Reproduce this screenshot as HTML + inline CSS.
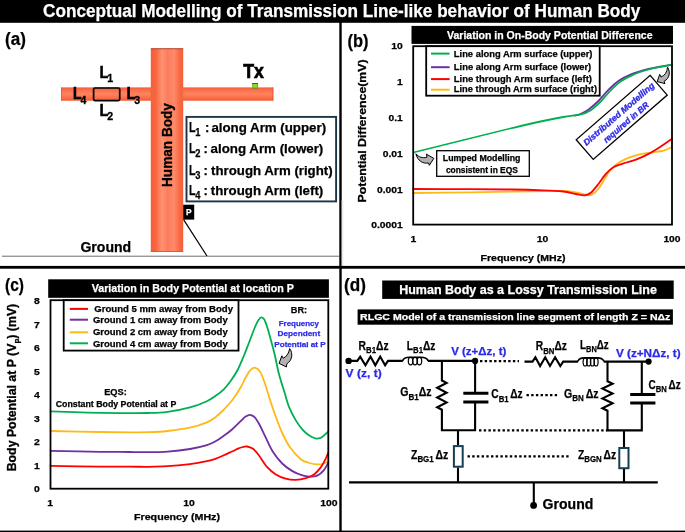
<!DOCTYPE html>
<html><head><meta charset="utf-8"><title>Conceptual Modelling of Transmission Line-like behavior of Human Body</title>
<style>
html,body{margin:0;padding:0;background:#fff;}
svg{display:block;}
text{font-family:"Liberation Sans",sans-serif;font-weight:bold;}
</style></head><body>
<svg width="685" height="532" viewBox="0 0 685 532">
<defs>
<linearGradient id="gb" x1="0" x2="1" y1="0" y2="0">
<stop offset="0" stop-color="#f45e39"/><stop offset="0.15" stop-color="#f7653e"/><stop offset="0.35" stop-color="#ff9273"/><stop offset="0.52" stop-color="#fb7d5b"/><stop offset="0.72" stop-color="#ff8a6a"/><stop offset="0.88" stop-color="#f96a45"/><stop offset="1" stop-color="#f45e39"/>
</linearGradient>
<linearGradient id="ga" x1="0" x2="0" y1="0" y2="1">
<stop offset="0" stop-color="#f35c36"/><stop offset="0.15" stop-color="#fa6a45"/><stop offset="0.5" stop-color="#ff8460"/><stop offset="0.85" stop-color="#f96843"/><stop offset="1" stop-color="#f0552f"/>
</linearGradient>
</defs>
<rect x="0" y="0" width="685" height="532" fill="#fff"/>

<rect x="0" y="0" width="685" height="22.8" fill="#000"/>
<text x="43" y="16.9" font-size="17.8" fill="#fff" textLength="597.4" lengthAdjust="spacingAndGlyphs" stroke="#fff" stroke-width="0.25">Conceptual Modelling of Transmission Line-like behavior of Human Body</text>
<rect x="339.3" y="22" width="2.4" height="510" fill="#000"/>
<rect x="341.7" y="200" width="1.6" height="66" fill="#ebebeb"/>
<rect x="0" y="265.9" width="685" height="2.8" fill="#000"/>
<rect x="0" y="530.6" width="685" height="1.4" fill="#000"/>
<g id="panel-a">
<text x="5" y="45.2" font-size="17.6" fill="#000" textLength="20.9" lengthAdjust="spacingAndGlyphs" stroke="#000" stroke-width="0.25">(a)</text>
<rect x="61.2" y="87.4" width="90.5" height="13.3" fill="url(#ga)"/>
<rect x="183" y="87.4" width="90.3" height="13.3" fill="url(#ga)"/>
<rect x="150.8" y="48.6" width="32.4" height="203.2" fill="url(#gb)"/>
<rect x="150.8" y="48.3" width="32.4" height="0.9" fill="#a8381a"/>
<path d="M151,87.6 Q154.3,94.2 151,100.8" stroke="#dd7a3c" stroke-width="0.8" fill="none"/>
<path d="M183.2,87.6 Q180.2,94.2 183.2,100.8" stroke="#dd7a3c" stroke-width="0.8" fill="none"/>
<rect x="61.2" y="87.4" width="0.8" height="13.3" fill="#e0552c"/>
<rect x="272.5" y="87.4" width="0.8" height="13.3" fill="#e0552c"/>
<rect x="150.8" y="251.2" width="32.4" height="0.8" fill="#b8583a"/>
<rect x="93.6" y="88" width="26.1" height="12.6" rx="1.3" fill="none" stroke="#000" stroke-width="1.7"/>
<text x="99.8" y="77.6" font-size="16" fill="#000" textLength="8.5" lengthAdjust="spacingAndGlyphs" stroke="#000" stroke-width="0.7">L</text>
<text x="107.19999999999999" y="82.19999999999999" font-size="11.6" fill="#000" textLength="5.9" lengthAdjust="spacingAndGlyphs" stroke="#000" stroke-width="0.3">1</text>
<text x="99.8" y="115.8" font-size="16" fill="#000" textLength="8.5" lengthAdjust="spacingAndGlyphs" stroke="#000" stroke-width="0.7">L</text>
<text x="107.19999999999999" y="120.39999999999999" font-size="11.6" fill="#000" textLength="5.9" lengthAdjust="spacingAndGlyphs" stroke="#000" stroke-width="0.3">2</text>
<text x="73.1" y="98.9" font-size="16" fill="#000" textLength="8.5" lengthAdjust="spacingAndGlyphs" stroke="#000" stroke-width="0.7">L</text>
<text x="80.49999999999999" y="103.5" font-size="11.6" fill="#000" textLength="5.9" lengthAdjust="spacingAndGlyphs" stroke="#000" stroke-width="0.3">4</text>
<text x="126.8" y="98.9" font-size="16" fill="#000" textLength="8.5" lengthAdjust="spacingAndGlyphs" stroke="#000" stroke-width="0.7">L</text>
<text x="134.2" y="103.5" font-size="11.6" fill="#000" textLength="5.9" lengthAdjust="spacingAndGlyphs" stroke="#000" stroke-width="0.3">3</text>
<text x="243.2" y="77.5" font-size="19.4" fill="#000" textLength="20.7" lengthAdjust="spacingAndGlyphs" stroke="#000" stroke-width="0.7">Tx</text>
<rect x="252.2" y="83.1" width="5.8" height="5.5" fill="#6fae1e"/>
<rect x="253.2" y="84" width="3.8" height="3.6" fill="#86e01a"/>
<rect x="252.2" y="83" width="5.8" height="0.8" fill="#4a3a2a"/>
<rect x="252.6" y="87.9" width="5" height="0.8" fill="#9a6a3a"/>
<text x="80.4" y="252.2" font-size="14" fill="#000" textLength="50.8" lengthAdjust="spacingAndGlyphs" stroke="#000" stroke-width="0.25">Ground</text>
<rect x="2" y="255.7" width="337" height="1" fill="#6e6e6e"/>
<rect x="186.5" y="116.9" width="149.6" height="84.5" fill="#fff" stroke="#1c3648" stroke-width="1.9"/>
<text x="189.0" y="131.7" font-size="14.6" fill="#000" textLength="6.6" lengthAdjust="spacingAndGlyphs" stroke="#000" stroke-width="0.25">L</text>
<text x="195.2" y="135.7" font-size="10.8" fill="#000" textLength="5.2" lengthAdjust="spacingAndGlyphs" stroke="#000" stroke-width="0.25">1</text>
<text x="205.0" y="131.7" font-size="13" fill="#000" stroke="#000" stroke-width="0.25">:</text>
<text x="211.4" y="131.7" font-size="13" fill="#000" textLength="114.7" lengthAdjust="spacingAndGlyphs" stroke="#000" stroke-width="0.25">along Arm (upper)</text>
<text x="189.0" y="153.4" font-size="14.6" fill="#000" textLength="6.6" lengthAdjust="spacingAndGlyphs" stroke="#000" stroke-width="0.25">L</text>
<text x="195.2" y="157.4" font-size="10.8" fill="#000" textLength="5.2" lengthAdjust="spacingAndGlyphs" stroke="#000" stroke-width="0.25">2</text>
<text x="203.6" y="153.4" font-size="13" fill="#000" stroke="#000" stroke-width="0.25">:</text>
<text x="210.6" y="153.4" font-size="13" fill="#000" textLength="112.7" lengthAdjust="spacingAndGlyphs" stroke="#000" stroke-width="0.25">along Arm (lower)</text>
<text x="189.0" y="174.5" font-size="14.6" fill="#000" textLength="6.6" lengthAdjust="spacingAndGlyphs" stroke="#000" stroke-width="0.25">L</text>
<text x="195.2" y="178.5" font-size="10.8" fill="#000" textLength="5.2" lengthAdjust="spacingAndGlyphs" stroke="#000" stroke-width="0.25">3</text>
<text x="203.6" y="174.5" font-size="13" fill="#000" stroke="#000" stroke-width="0.25">:</text>
<text x="211.1" y="174.5" font-size="13" fill="#000" textLength="121.5" lengthAdjust="spacingAndGlyphs" stroke="#000" stroke-width="0.25">through Arm (right)</text>
<text x="189.0" y="194.8" font-size="14.6" fill="#000" textLength="6.6" lengthAdjust="spacingAndGlyphs" stroke="#000" stroke-width="0.25">L</text>
<text x="195.2" y="198.8" font-size="10.8" fill="#000" textLength="5.2" lengthAdjust="spacingAndGlyphs" stroke="#000" stroke-width="0.25">4</text>
<text x="203.6" y="194.8" font-size="13" fill="#000" stroke="#000" stroke-width="0.25">:</text>
<text x="210.8" y="194.8" font-size="13" fill="#000" textLength="112.5" lengthAdjust="spacingAndGlyphs" stroke="#000" stroke-width="0.25">through Arm (left)</text>
<rect x="183.2" y="204.7" width="11" height="14.9" fill="#000"/>
<text x="188.7" y="215.2" font-size="8.4" fill="#fff" text-anchor="middle" stroke="#fff" stroke-width="0.25">P</text>
<path d="M183.6,219.6 L207,256" stroke="#000" stroke-width="1.2" fill="none"/>
<text transform="translate(171.8,187) rotate(-90)" font-size="14.3" textLength="83.9" lengthAdjust="spacingAndGlyphs" stroke="#000" stroke-width="0.3">Human Body</text>
</g>
<g id="panel-b">
<text x="347.5" y="46.5" font-size="18" fill="#000" textLength="21" lengthAdjust="spacingAndGlyphs" stroke="#000" stroke-width="0.25">(b)</text>
<rect x="411.5" y="25.9" width="261.5" height="18" fill="#000"/>
<text x="549.8" y="38.9" font-size="10.5" fill="#fff" text-anchor="middle" textLength="205.5" lengthAdjust="spacingAndGlyphs" stroke="#fff" stroke-width="0.25">Variation in On-Body Potential Difference</text>
<path d="M413.2,193.0 C422.7,192.9 453.4,192.6 470.0,192.3 C486.6,192.1 500.8,191.7 513.0,191.5 C525.2,191.3 534.7,191.1 543.1,191.0 C551.5,190.9 557.3,190.7 563.2,191.0 C569.1,191.3 574.1,192.1 578.3,192.8 C582.5,193.5 585.6,195.3 588.3,195.3 C591.0,195.3 592.5,194.5 594.6,192.8 C596.7,191.1 598.6,188.5 600.9,185.2 C603.2,181.8 605.9,176.1 608.4,172.7 C610.9,169.3 613.0,166.9 615.9,164.6 C618.8,162.3 622.2,160.6 626.0,158.9 C629.8,157.2 634.3,155.7 638.5,154.6 C642.7,153.5 646.9,153.3 651.1,152.6 C655.3,151.9 660.1,151.5 663.6,150.6 C667.1,149.7 670.6,147.7 672.0,147.1" fill="none" stroke="#ffb914" stroke-width="1.8" stroke-linecap="round"/>
<path d="M413.2,189.0 C422.7,189.0 453.4,189.1 470.0,189.2 C486.6,189.3 500.8,189.3 513.0,189.5 C525.2,189.7 534.7,190.0 543.1,190.3 C551.5,190.6 557.8,190.9 563.2,191.5 C568.7,192.1 572.2,193.4 575.8,194.0 C579.4,194.6 582.1,195.5 584.6,195.3 C587.1,195.1 588.5,194.7 590.8,192.8 C593.1,190.9 595.9,187.2 598.4,184.0 C600.9,180.8 603.4,176.7 605.9,173.9 C608.4,171.1 610.5,168.9 613.4,167.2 C616.3,165.4 619.7,164.7 623.5,163.4 C627.3,162.1 631.8,161.2 636.0,159.6 C640.2,158.0 644.4,156.1 648.6,153.9 C652.8,151.7 657.2,148.8 661.1,146.3 C665.0,143.8 670.2,140.1 672.0,138.8" fill="none" stroke="#ff0000" stroke-width="1.8" stroke-linecap="round"/>
<path d="M575.0,115.6 C575.8,115.4 577.8,115.2 580.0,114.2 C582.2,113.2 585.2,111.9 588.3,109.7 C591.4,107.5 595.0,104.3 598.4,101.0 C601.8,97.7 605.1,93.2 608.4,89.9 C611.7,86.6 614.6,83.6 618.4,81.0 C622.2,78.4 626.0,76.4 631.0,74.4 C636.0,72.4 643.8,70.2 648.6,68.9 C653.4,67.6 656.1,67.3 660.0,66.6 C663.9,65.9 670.0,64.9 672.0,64.6" fill="none" stroke="#7030a0" stroke-width="1.8" stroke-linecap="round"/>
<path d="M413.2,152.5 L513,127.8" fill="none" stroke="#00b050" stroke-width="1.6"/>
<path d="M513.0,127.8 C517.2,126.8 529.7,123.8 538.1,122.0 C546.5,120.2 556.1,118.3 563.2,117.0 C570.3,115.7 576.2,115.5 580.8,114.4 C585.4,113.3 587.4,112.4 590.8,110.2 C594.1,108.0 597.5,104.8 600.9,101.4 C604.2,98.1 607.5,93.4 610.9,90.1 C614.2,86.8 617.2,83.9 621.0,81.3 C624.8,78.7 628.9,76.6 633.5,74.6 C638.1,72.6 643.6,70.9 648.6,69.5 C653.6,68.1 659.7,67.1 663.6,66.3 C667.5,65.5 670.6,64.9 672.0,64.6" fill="none" stroke="#00b050" stroke-width="1.8" stroke-linecap="round"/>
<rect x="413.2" y="46.2" width="258.8" height="178.39999999999998" fill="none" stroke="#000" stroke-width="1.8"/>
<rect x="426.2" y="46.2" width="173.5" height="49.5" fill="#fff" stroke="#000" stroke-width="1.8"/>
<path d="M431,53.599999999999994 H449.6" stroke="#00b050" stroke-width="2"/>
<text x="453.8" y="56.9" font-size="9.0" fill="#000" textLength="138.7" lengthAdjust="spacingAndGlyphs" stroke="#000" stroke-width="0.25">Line along Arm surface (upper)</text>
<path d="M431,67.2 H449.6" stroke="#7030a0" stroke-width="2"/>
<text x="453.8" y="69.8" font-size="9.0" fill="#000" textLength="137.4" lengthAdjust="spacingAndGlyphs" stroke="#000" stroke-width="0.25">Line along Arm surface (lower)</text>
<path d="M431,79.1 H449.6" stroke="#ff0000" stroke-width="2"/>
<text x="453.8" y="81.8" font-size="9.0" fill="#000" textLength="138.2" lengthAdjust="spacingAndGlyphs" stroke="#000" stroke-width="0.25">Line through Arm surface (left)</text>
<path d="M431,89.7 H449.6" stroke="#ffb914" stroke-width="2"/>
<text x="453.8" y="91.7" font-size="9.0" fill="#000" textLength="143.2" lengthAdjust="spacingAndGlyphs" stroke="#000" stroke-width="0.25">Line through Arm surface (right)</text>
<text x="402.8" y="49.3" font-size="9.5" fill="#000" text-anchor="end" textLength="11.5" lengthAdjust="spacingAndGlyphs" stroke="#000" stroke-width="0.25">10</text>
<text x="402.8" y="85.4" font-size="9.5" fill="#000" text-anchor="end" textLength="5.8" lengthAdjust="spacingAndGlyphs" stroke="#000" stroke-width="0.25">1</text>
<text x="402.8" y="121.30000000000001" font-size="9.5" fill="#000" text-anchor="end" textLength="14.3" lengthAdjust="spacingAndGlyphs" stroke="#000" stroke-width="0.25">0.1</text>
<text x="402.8" y="156.9" font-size="9.5" fill="#000" text-anchor="end" textLength="20.1" lengthAdjust="spacingAndGlyphs" stroke="#000" stroke-width="0.25">0.01</text>
<text x="402.8" y="192.8" font-size="9.5" fill="#000" text-anchor="end" textLength="25.8" lengthAdjust="spacingAndGlyphs" stroke="#000" stroke-width="0.25">0.001</text>
<text x="402.8" y="228.20000000000002" font-size="9.5" fill="#000" text-anchor="end" textLength="31.6" lengthAdjust="spacingAndGlyphs" stroke="#000" stroke-width="0.25">0.0001</text>
<text x="413.3" y="241.9" font-size="9.5" fill="#000" text-anchor="middle" textLength="5.8" lengthAdjust="spacingAndGlyphs" stroke="#000" stroke-width="0.25">1</text>
<text x="542.6" y="241.9" font-size="9.5" fill="#000" text-anchor="middle" textLength="11.5" lengthAdjust="spacingAndGlyphs" stroke="#000" stroke-width="0.25">10</text>
<text x="672" y="241.9" font-size="9.5" fill="#000" text-anchor="middle" textLength="17.2" lengthAdjust="spacingAndGlyphs" stroke="#000" stroke-width="0.25">100</text>
<text x="523" y="261.3" font-size="9.2" fill="#000" text-anchor="middle" textLength="85" lengthAdjust="spacingAndGlyphs" stroke="#000" stroke-width="0.25">Frequency (MHz)</text>
<text transform="translate(366.2,202.4) rotate(-90)" font-size="11.6" textLength="143" lengthAdjust="spacingAndGlyphs" stroke="#000" stroke-width="0.3">Potential Difference(mV)</text>
<rect x="436.7" y="150.7" width="92.6" height="25.6" fill="#fff" stroke="#000" stroke-width="1.3"/>
<text x="481.6" y="161.2" font-size="8.4" fill="#000" text-anchor="middle" textLength="77.6" lengthAdjust="spacingAndGlyphs" stroke="#000" stroke-width="0.25">Lumped Modelling</text>
<text x="481.9" y="172.5" font-size="8.4" fill="#000" text-anchor="middle" textLength="72" lengthAdjust="spacingAndGlyphs" stroke="#000" stroke-width="0.25">consistent in EQS</text>
<g transform="translate(621.7,117.4) rotate(-41)">
<rect x="-49" y="-13" width="98" height="26" fill="#fff" stroke="#000" stroke-width="1.3"/>
<text x="0" y="-1.5" font-size="8.6" font-style="italic" fill="#2a2ae6" stroke="#2a2ae6" stroke-width="0.3" text-anchor="middle" textLength="91" lengthAdjust="spacingAndGlyphs">Distributed Modelling</text>
<text x="0" y="9.5" font-size="8.6" font-style="italic" fill="#2a2ae6" stroke="#2a2ae6" stroke-width="0.3" text-anchor="middle" textLength="57" lengthAdjust="spacingAndGlyphs">required in BR</text>
</g>
<path d="M667.6,67.2 C670.6,72 669.6,78.5 664.2,81.2 L664.9,83.6 L657.2,81.6 L659.7,74.4 L661,77 C665,75.5 667,72 667.6,67.2 Z" fill="#b2b2b2" stroke="#000" stroke-width="1" stroke-linejoin="round"/>
<path d="M415.9,153.8 C417.5,160.5 422.5,164 428.6,163 L429.3,165.3 L433.8,158.4 L426.4,154.1 L427,157.2 C422.5,158.5 418.5,157 415.9,153.8 Z" fill="#b2b2b2" stroke="#000" stroke-width="1" stroke-linejoin="round"/>
</g>
<g id="panel-c">
<text x="5" y="291.3" font-size="18" fill="#000" textLength="19" lengthAdjust="spacingAndGlyphs" stroke="#000" stroke-width="0.25">(c)</text>
<rect x="48.2" y="279.3" width="280.7" height="18.5" fill="#000"/>
<text x="192.8" y="292.1" font-size="10.5" fill="#fff" text-anchor="middle" textLength="202.3" lengthAdjust="spacingAndGlyphs" stroke="#fff" stroke-width="0.25">Variation in Body Potential at location P</text>
<path d="M50.5,411.4 C56.7,411.6 75.4,412.3 87.9,412.6 C100.4,412.9 115.3,413.0 125.5,413.1 C135.7,413.2 141.8,413.2 148.8,413.0 C155.8,412.8 160.7,412.7 167.6,411.8 C174.5,410.9 183.4,409.2 190.0,407.4 C196.6,405.6 202.6,403.2 206.9,401.2 C211.2,399.2 213.2,397.6 216.0,395.6 C218.8,393.6 221.3,391.8 223.8,389.3 C226.3,386.8 228.7,383.7 231.0,380.5 C233.3,377.3 235.4,374.2 237.6,370.0 C239.8,365.8 242.1,360.0 244.2,355.0 C246.3,350.0 248.2,344.7 250.0,340.0 C251.8,335.3 253.6,330.3 255.0,327.0 C256.4,323.7 257.4,321.6 258.5,320.0 C259.6,318.4 260.3,317.4 261.3,317.3 C262.3,317.2 263.3,317.7 264.3,319.5 C265.3,321.3 266.4,324.5 267.5,328.0 C268.6,331.5 269.8,336.0 271.0,340.5 C272.2,345.0 273.5,349.4 274.8,355.0 C276.1,360.6 277.3,367.5 278.9,373.8 C280.5,380.1 282.9,387.1 284.6,392.6 C286.3,398.1 287.1,402.2 289.0,406.8 C290.9,411.4 293.6,416.6 295.8,420.4 C298.1,424.2 300.2,427.2 302.5,429.7 C304.8,432.2 307.0,434.1 309.3,435.6 C311.6,437.1 314.1,438.3 316.1,438.6 C318.1,438.9 319.6,438.3 321.1,437.6 C322.7,436.9 324.2,435.2 325.4,434.2 C326.6,433.2 327.8,431.9 328.3,431.4" fill="none" stroke="#00b050" stroke-width="1.8" stroke-linecap="round"/>
<path d="M50.5,431.0 C58.8,431.2 87.2,431.8 100.4,432.0 C113.7,432.2 121.9,432.3 130.0,432.3 C138.1,432.3 142.5,432.4 148.8,432.2 C155.1,432.0 160.7,431.8 167.6,431.0 C174.5,430.2 183.4,429.1 190.0,427.7 C196.6,426.2 202.6,424.1 206.9,422.3 C211.2,420.5 213.2,418.9 216.0,416.8 C218.8,414.7 221.1,412.3 223.8,409.6 C226.5,406.9 229.2,404.2 232.0,400.5 C234.8,396.8 238.5,391.2 240.8,387.3 C243.1,383.4 244.3,379.7 246.0,376.8 C247.7,373.9 249.2,371.2 250.8,369.7 C252.4,368.2 253.9,367.4 255.5,367.8 C257.1,368.2 258.6,369.3 260.2,371.9 C261.8,374.5 263.2,378.8 264.8,383.2 C266.4,387.6 267.8,392.9 269.5,398.2 C271.2,403.5 273.0,409.2 275.2,415.2 C277.4,421.2 280.2,428.6 282.7,434.0 C285.2,439.4 287.2,443.4 290.2,447.6 C293.2,451.8 297.6,456.7 300.8,459.3 C304.0,461.9 306.5,462.1 309.3,463.0 C312.1,463.9 315.3,464.3 317.7,464.4 C320.1,464.5 321.9,464.0 323.7,463.5 C325.5,463.0 327.5,461.8 328.3,461.5" fill="none" stroke="#ffb914" stroke-width="1.8" stroke-linecap="round"/>
<path d="M50.5,450.8 C58.8,451.0 87.2,451.6 100.4,451.8 C113.7,452.0 121.9,451.9 130.0,452.0 C138.1,452.1 142.5,452.2 148.8,452.1 C155.1,452.0 160.7,452.1 167.6,451.6 C174.5,451.1 183.4,450.1 190.0,449.0 C196.6,447.9 202.6,446.4 206.9,445.1 C211.2,443.8 213.2,442.6 216.0,441.0 C218.8,439.4 221.1,437.7 223.8,435.8 C226.5,433.9 229.2,432.0 232.0,429.5 C234.8,427.0 238.5,423.1 240.8,421.0 C243.1,418.9 244.1,417.6 245.6,416.6 C247.1,415.6 248.4,414.7 249.9,414.8 C251.4,414.9 253.1,415.5 254.8,417.4 C256.5,419.3 258.4,422.6 260.2,426.0 C262.0,429.4 263.8,433.6 265.8,437.7 C267.8,441.8 269.7,446.6 272.4,450.9 C275.1,455.2 278.9,460.1 282.2,463.5 C285.5,466.9 289.0,469.1 292.4,471.1 C295.8,473.1 299.4,474.5 302.5,475.4 C305.6,476.3 308.5,476.7 311.0,476.7 C313.5,476.7 315.6,476.5 317.7,475.4 C319.8,474.3 321.9,472.4 323.7,470.3 C325.5,468.2 327.5,464.0 328.3,462.7" fill="none" stroke="#7030a0" stroke-width="1.8" stroke-linecap="round"/>
<path d="M50.5,465.9 C58.8,466.0 87.2,466.5 100.4,466.6 C113.7,466.7 121.9,466.7 130.0,466.7 C138.1,466.7 142.5,466.9 148.8,466.8 C155.1,466.7 160.7,466.6 167.6,466.2 C174.5,465.8 183.4,464.9 190.0,464.1 C196.6,463.3 202.6,462.1 206.9,461.2 C211.2,460.3 213.2,459.6 216.0,458.6 C218.8,457.6 221.1,456.5 223.8,455.3 C226.5,454.1 229.6,452.6 232.0,451.5 C234.4,450.4 236.2,449.4 238.0,448.6 C239.8,447.9 241.5,447.4 243.0,447.0 C244.5,446.6 245.4,446.2 247.0,446.5 C248.6,446.8 250.7,447.3 252.6,448.6 C254.5,449.9 255.9,451.4 258.3,454.5 C260.7,457.6 264.1,463.6 267.0,466.9 C269.9,470.2 272.4,472.2 275.5,474.2 C278.6,476.2 282.2,477.8 285.6,478.7 C289.0,479.6 292.4,480.0 295.8,479.9 C299.2,479.8 302.8,479.1 305.9,478.2 C309.0,477.2 311.9,476.1 314.4,474.2 C316.9,472.3 319.3,469.4 321.1,466.9 C322.9,464.4 324.2,461.7 325.4,459.3 C326.6,456.9 327.8,453.6 328.3,452.5" fill="none" stroke="#ff0000" stroke-width="1.8" stroke-linecap="round"/>
<rect x="50.5" y="300.2" width="277.8" height="188.5" fill="none" stroke="#000" stroke-width="1.8"/>
<rect x="63.7" y="300.2" width="174.8" height="50.4" fill="#fff" stroke="#000" stroke-width="1.8"/>
<path d="M69.8,308.9 H88" stroke="#ff0000" stroke-width="2"/>
<text x="94.30000000000001" y="312.4" font-size="9.0" fill="#000" textLength="138.7" lengthAdjust="spacingAndGlyphs" stroke="#000" stroke-width="0.25">Ground 5 mm away from Body</text>
<path d="M69.8,319.7 H88" stroke="#7030a0" stroke-width="2"/>
<text x="92.9" y="323.2" font-size="9.0" fill="#000" textLength="134.8" lengthAdjust="spacingAndGlyphs" stroke="#000" stroke-width="0.25">Ground 1 cm away from Body</text>
<path d="M69.8,332.3 H88" stroke="#ffb914" stroke-width="2"/>
<text x="92.9" y="334.8" font-size="9.0" fill="#000" textLength="134.8" lengthAdjust="spacingAndGlyphs" stroke="#000" stroke-width="0.25">Ground 2 cm away from Body</text>
<path d="M69.8,343.3 H88" stroke="#00b050" stroke-width="2"/>
<text x="92.9" y="347.1" font-size="9.0" fill="#000" textLength="134.8" lengthAdjust="spacingAndGlyphs" stroke="#000" stroke-width="0.25">Ground 4 cm away from Body</text>
<text x="39.9" y="492.0" font-size="9.6" fill="#000" text-anchor="end" textLength="5.8" lengthAdjust="spacingAndGlyphs" stroke="#000" stroke-width="0.25">0</text>
<text x="39.9" y="468.5" font-size="9.6" fill="#000" text-anchor="end" textLength="5.8" lengthAdjust="spacingAndGlyphs" stroke="#000" stroke-width="0.25">1</text>
<text x="39.9" y="445.0" font-size="9.6" fill="#000" text-anchor="end" textLength="5.8" lengthAdjust="spacingAndGlyphs" stroke="#000" stroke-width="0.25">2</text>
<text x="39.9" y="421.5" font-size="9.6" fill="#000" text-anchor="end" textLength="5.8" lengthAdjust="spacingAndGlyphs" stroke="#000" stroke-width="0.25">3</text>
<text x="39.9" y="398.0" font-size="9.6" fill="#000" text-anchor="end" textLength="5.8" lengthAdjust="spacingAndGlyphs" stroke="#000" stroke-width="0.25">4</text>
<text x="39.9" y="374.5" font-size="9.6" fill="#000" text-anchor="end" textLength="5.8" lengthAdjust="spacingAndGlyphs" stroke="#000" stroke-width="0.25">5</text>
<text x="39.9" y="351.0" font-size="9.6" fill="#000" text-anchor="end" textLength="5.8" lengthAdjust="spacingAndGlyphs" stroke="#000" stroke-width="0.25">6</text>
<text x="39.9" y="327.5" font-size="9.6" fill="#000" text-anchor="end" textLength="5.8" lengthAdjust="spacingAndGlyphs" stroke="#000" stroke-width="0.25">7</text>
<text x="39.9" y="304.0" font-size="9.6" fill="#000" text-anchor="end" textLength="5.8" lengthAdjust="spacingAndGlyphs" stroke="#000" stroke-width="0.25">8</text>
<text x="50.2" y="506.4" font-size="9.6" fill="#000" text-anchor="middle" textLength="5.8" lengthAdjust="spacingAndGlyphs" stroke="#000" stroke-width="0.25">1</text>
<text x="189.1" y="506.4" font-size="9.6" fill="#000" text-anchor="middle" textLength="11.6" lengthAdjust="spacingAndGlyphs" stroke="#000" stroke-width="0.25">10</text>
<text x="328.9" y="506.4" font-size="9.6" fill="#000" text-anchor="middle" textLength="17.4" lengthAdjust="spacingAndGlyphs" stroke="#000" stroke-width="0.25">100</text>
<text x="177" y="520.1" font-size="9.3" fill="#000" text-anchor="middle" textLength="86" lengthAdjust="spacingAndGlyphs" stroke="#000" stroke-width="0.25">Frequency (MHz)</text>
<text transform="translate(16.4,471.3) rotate(-90)" font-size="12.3" textLength="167.5" lengthAdjust="spacingAndGlyphs" stroke="#000" stroke-width="0.3">Body Potential at P (V<tspan font-size="8" dy="2.5">p</tspan><tspan dy="-2.5">) (mV)</tspan></text>
<text x="115.5" y="394.7" font-size="9.3" fill="#000" text-anchor="middle" textLength="22.6" lengthAdjust="spacingAndGlyphs" stroke="#000" stroke-width="0.25">EQS:</text>
<text x="116" y="406.9" font-size="8.6" fill="#000" text-anchor="middle" textLength="120.6" lengthAdjust="spacingAndGlyphs" stroke="#000" stroke-width="0.25">Constant Body Potential at P</text>
<text x="299" y="313.3" font-size="9.3" fill="#000" text-anchor="middle" textLength="16.3" lengthAdjust="spacingAndGlyphs" stroke="#000" stroke-width="0.25">BR:</text>
<text x="298.8" y="325.5" font-size="8.1" fill="#2a2ae6" text-anchor="middle" textLength="40.2" lengthAdjust="spacingAndGlyphs" stroke="#2a2ae6" stroke-width="0.25">Frequency</text>
<text x="298.8" y="335.8" font-size="8.1" fill="#2a2ae6" text-anchor="middle" textLength="42.7" lengthAdjust="spacingAndGlyphs" stroke="#2a2ae6" stroke-width="0.25">Dependent</text>
<text x="300" y="346.6" font-size="8.1" fill="#2a2ae6" text-anchor="middle" textLength="51.5" lengthAdjust="spacingAndGlyphs" stroke="#2a2ae6" stroke-width="0.25">Potential at P</text>
<path d="M289.7,348.6 C293.4,353.5 292,360.8 286.9,363.7 L286.4,367 L279.1,363.4 L281.8,355.8 L283.2,358.2 C286.5,356.8 288.8,353.5 289.7,348.6 Z" fill="#b2b2b2" stroke="#000" stroke-width="1" stroke-linejoin="round"/>
</g>
<g id="panel-d">
<text x="344" y="291.4" font-size="18" fill="#000" textLength="21.9" lengthAdjust="spacingAndGlyphs" stroke="#000" stroke-width="0.25">(d)</text>
<rect x="382.2" y="280.5" width="291.5" height="18.4" fill="#000"/>
<text x="399.2" y="293.9" font-size="12.4" fill="#fff" textLength="257.7" lengthAdjust="spacingAndGlyphs" stroke="#fff" stroke-width="0.25">Human Body as a Lossy Transmission Line</text>
<rect x="357.6" y="309.4" width="315.3" height="15.3" fill="#000"/>
<text x="360.1" y="320.4" font-size="9.6" fill="#fff" textLength="310.3" lengthAdjust="spacingAndGlyphs" stroke="#fff" stroke-width="0.25">RLGC Model of a transmission line segment of length Z = NΔz</text>
<circle cx="348.6" cy="360.9" r="3.2" fill="#000"/>
<path d="M348.6,360.9 H357.3 L360.2,356.6 L365.4,365.3 L370.5,356.6 L375.3,365.3 L380.2,356.6 L385.1,365.3 L388,360.9 H402.8" stroke="#000" stroke-width="2.1" fill="none" stroke-linejoin="miter" stroke-miterlimit="6"/>
<path d="M402.6,360.9 Q403.8,357.3 409.6,357.3 H420.4 Q426.90000000000003,357.3 428.1,360.9" stroke="#000" stroke-width="1.6" fill="none"/><ellipse cx="410.6" cy="361.1" rx="2.3" ry="3.8" stroke="#000" stroke-width="1.2" fill="none"/><ellipse cx="415" cy="361.1" rx="2.3" ry="3.8" stroke="#000" stroke-width="1.2" fill="none"/><ellipse cx="419.4" cy="361.1" rx="2.3" ry="3.8" stroke="#000" stroke-width="1.2" fill="none"/>
<path d="M427.9,360.9 H475.1" stroke="#000" stroke-width="2.1" fill="none" stroke-linejoin="miter" stroke-miterlimit="6"/>
<circle cx="475.1" cy="360.9" r="3.1" fill="#000"/>
<path d="M441.9,360.9 V380.5 L446.6,382.9 L437.2,387.8 L446.6,392.7 L437.2,397.5 L446.6,402.4 L437.2,407.3 L441.9,409.7 V430.3 H475.1 V402" stroke="#000" stroke-width="2.1" fill="none" stroke-linejoin="miter" stroke-miterlimit="6"/>
<path d="M475.1,360.9 V393.3" stroke="#000" stroke-width="2.1" fill="none" stroke-linejoin="miter" stroke-miterlimit="6"/>
<path d="M463.3,393.3 H488.4 M463.3,401.9 H488.4" stroke="#000" stroke-width="3"/>
<path d="M458,430.3 V445.3 M458,467.4 V482.5" stroke="#000" stroke-width="2.1" fill="none" stroke-linejoin="miter" stroke-miterlimit="6"/>
<rect x="453.9" y="446.1" width="8.8" height="20.6" fill="#fff" stroke="#163f54" stroke-width="2"/>
<path d="M480,361.2 H519" stroke="#000" stroke-width="2.2" stroke-dasharray="2.4 2.3" fill="none"/>
<path d="M479,430.3 H607" stroke="#000" stroke-width="2.2" stroke-dasharray="2.4 2.3" fill="none"/>
<path d="M467.5,456.3 H570" stroke="#000" stroke-width="2.2" stroke-dasharray="2.4 2.3" fill="none"/>
<path d="M526.5,395.1 H558" stroke="#000" stroke-width="2.2" stroke-dasharray="2.4 2.3" fill="none"/>
<path d="M524.5,361.6 H532.5 L535.4,357.3 L540.1,366.0 L545.2,357.3 L550,366.0 L555.1,357.3 L560.3,366.0 L563.2,361.6 H578" stroke="#000" stroke-width="2.1" fill="none" stroke-linejoin="miter" stroke-miterlimit="6"/>
<path d="M577.8,361.6 Q579.0,357.9 584.1,357.9 H597.1 Q602.8,357.9 604,361.6" stroke="#000" stroke-width="1.6" fill="none"/><ellipse cx="585.1" cy="361.9" rx="2.0" ry="4.1" stroke="#000" stroke-width="1.2" fill="none"/><ellipse cx="588.8" cy="361.9" rx="2.0" ry="4.1" stroke="#000" stroke-width="1.2" fill="none"/><ellipse cx="592.4" cy="361.9" rx="2.0" ry="4.1" stroke="#000" stroke-width="1.2" fill="none"/><ellipse cx="596.1" cy="361.9" rx="2.0" ry="4.1" stroke="#000" stroke-width="1.2" fill="none"/>
<path d="M603.8,361.6 H648.6" stroke="#000" stroke-width="2.1" fill="none" stroke-linejoin="miter" stroke-miterlimit="6"/>
<circle cx="648.6" cy="361.6" r="3.1" fill="#000"/>
<path d="M607.5,361.6 V381.3 L612.6,383.8 L602.4,388.6 L612.6,393.5 L602.4,398.4 L612.6,403.3 L602.4,408.2 L607.5,410.7 V430.4 H641.8 V403" stroke="#000" stroke-width="2.1" fill="none" stroke-linejoin="miter" stroke-miterlimit="6"/>
<path d="M641.8,361.6 V394.5" stroke="#000" stroke-width="2.1" fill="none" stroke-linejoin="miter" stroke-miterlimit="6"/>
<path d="M630.2,394.5 H655.4 M630.2,403 H655.4" stroke="#000" stroke-width="3"/>
<path d="M624,430.4 V447.2 M624,469 V482.5" stroke="#000" stroke-width="2.1" fill="none" stroke-linejoin="miter" stroke-miterlimit="6"/>
<rect x="619.3" y="448" width="9.2" height="20.2" fill="#fff" stroke="#163f54" stroke-width="2"/>
<path d="M349,482.4 H657.8" stroke="#000" stroke-width="2.1" fill="none" stroke-linejoin="miter" stroke-miterlimit="6"/>
<path d="M533.8,482.4 V505" stroke="#000" stroke-width="2.1" fill="none" stroke-linejoin="miter" stroke-miterlimit="6"/>
<circle cx="533.6" cy="505.4" r="3.4" fill="#000"/>
<text x="542.6" y="508.8" font-size="14.2" fill="#000" textLength="50.7" lengthAdjust="spacingAndGlyphs" stroke="#000" stroke-width="0.25">Ground</text>
<text x="358.6" y="349.7" font-size="12.1" fill="#000" textLength="30.0" lengthAdjust="spacingAndGlyphs" stroke="#000" stroke-width="0.25">R<tspan font-size="9.2" dy="3.1">B1</tspan><tspan dy="-3.1" dx="0">Δz</tspan></text>
<text x="406.8" y="349.7" font-size="12.1" fill="#000" textLength="28.6" lengthAdjust="spacingAndGlyphs" stroke="#000" stroke-width="0.25">L<tspan font-size="9.2" dy="3.1">B1</tspan><tspan dy="-3.1" dx="0">Δz</tspan></text>
<text x="535.8" y="350.4" font-size="12.1" fill="#000" textLength="31.1" lengthAdjust="spacingAndGlyphs" stroke="#000" stroke-width="0.25">R<tspan font-size="9.2" dy="3.1">BN</tspan><tspan dy="-3.1" dx="0">Δz</tspan></text>
<text x="580" y="349.2" font-size="12.1" fill="#000" textLength="28.8" lengthAdjust="spacingAndGlyphs" stroke="#000" stroke-width="0.25">L<tspan font-size="9.2" dy="3.1">BN</tspan><tspan dy="-3.1" dx="0">Δz</tspan></text>
<text x="400.2" y="396.4" font-size="12.1" fill="#000" textLength="31.4" lengthAdjust="spacingAndGlyphs" stroke="#000" stroke-width="0.25">G<tspan font-size="9.2" dy="3.1">B1</tspan><tspan dy="-3.1" dx="0">Δz</tspan></text>
<text x="491.3" y="398.4" font-size="12.1" fill="#000" textLength="31.4" lengthAdjust="spacingAndGlyphs" stroke="#000" stroke-width="0.25">C<tspan font-size="9.2" dy="3.1">B1</tspan><tspan dy="-3.1" dx="2">Δz</tspan></text>
<text x="564.1" y="397.6" font-size="12.1" fill="#000" textLength="34.4" lengthAdjust="spacingAndGlyphs" stroke="#000" stroke-width="0.25">G<tspan font-size="9.2" dy="3.1">BN</tspan><tspan dy="-3.1" dx="2">Δz</tspan></text>
<text x="648.6" y="388.5" font-size="12.1" fill="#000" textLength="32.1" lengthAdjust="spacingAndGlyphs" stroke="#000" stroke-width="0.25">C<tspan font-size="9.2" dy="3.1">BN</tspan><tspan dy="-3.1" dx="2">Δz</tspan></text>
<text x="411" y="459.1" font-size="12.1" fill="#000" textLength="37.2" lengthAdjust="spacingAndGlyphs" stroke="#000" stroke-width="0.25">Z<tspan font-size="9.2" dy="3.1">BG1</tspan><tspan dy="-3.1" dx="2">Δz</tspan></text>
<text x="578" y="459.1" font-size="12.1" fill="#000" textLength="38.1" lengthAdjust="spacingAndGlyphs" stroke="#000" stroke-width="0.25">Z<tspan font-size="9.2" dy="3.1">BGN</tspan><tspan dy="-3.1" dx="2">Δz</tspan></text>
<text x="345.6" y="377.2" font-size="11.2" fill="#2a2ae6" textLength="36.1" lengthAdjust="spacingAndGlyphs" stroke="#2a2ae6" stroke-width="0.25">V (z, t)</text>
<text x="451.2" y="354.9" font-size="11.2" fill="#2a2ae6" textLength="55.2" lengthAdjust="spacingAndGlyphs" stroke="#2a2ae6" stroke-width="0.25">V (z+Δz, t)</text>
<text x="615.9" y="356.6" font-size="11.2" fill="#2a2ae6" textLength="64.8" lengthAdjust="spacingAndGlyphs" stroke="#2a2ae6" stroke-width="0.25">V (z+NΔz, t)</text>
</g>
</svg></body></html>
